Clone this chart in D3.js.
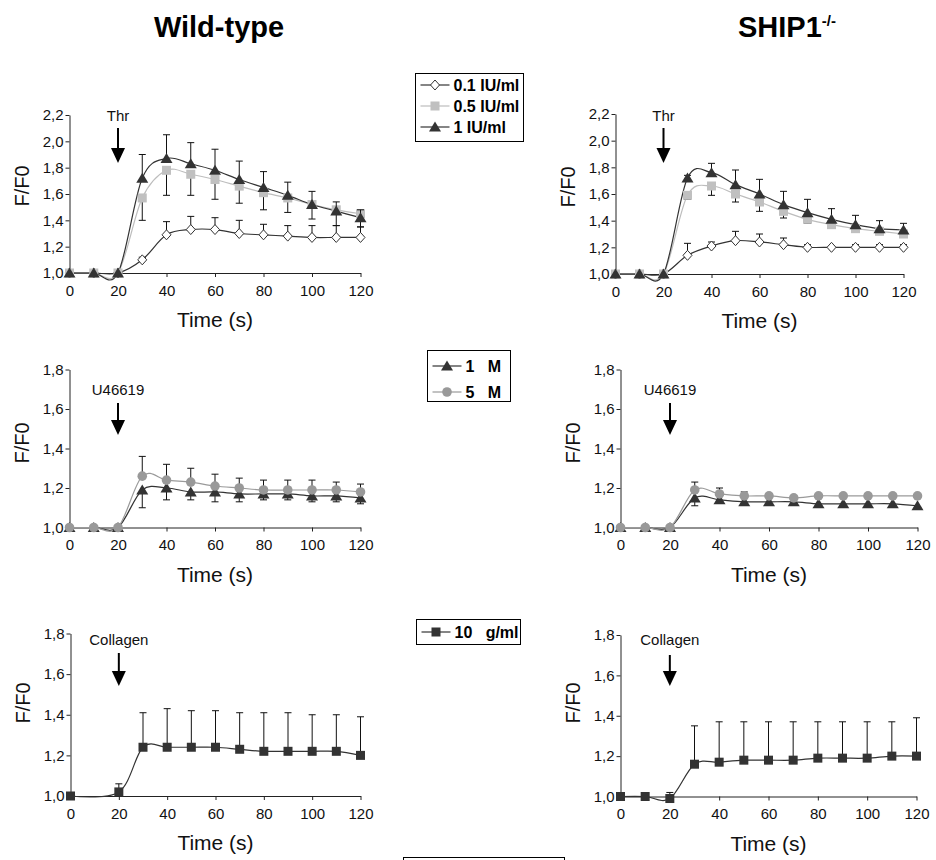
<!DOCTYPE html>
<html>
<head>
<meta charset="utf-8">
<script src="https://cdn.jsdelivr.net/npm/d3@7"></script>
<style>
body{margin:0;background:#fff;}
svg{font-family:"Liberation Sans",Arial,sans-serif;}
</style>
</head>
<body>
<div id="chart-area"></div>
<script>
// time points (s)
var times=[0,10,20,30,40,50,60,70,80,90,100,110,120];
var timesColWT=[0,20,30,40,50,60,70,80,90,100,110,120];
var xTicks=[0,20,40,60,80,100,120];
var yTicksThr=[1.0,1.2,1.4,1.6,1.8,2.0,2.2];
var yTicksLow=[1.0,1.2,1.4,1.6,1.8];

// thrombin, wild-type
var thr01WT=[1.00,1.00,1.00,1.10,1.29,1.33,1.33,1.30,1.29,1.28,1.27,1.27,1.27];
var thr01WTerr=[0,0,0,0.02,0.10,0.10,0.09,0.10,0.08,0.08,0.09,0.09,0.08];
var thr05WT=[1.00,1.00,1.00,1.57,1.78,1.75,1.71,1.66,1.61,1.57,1.52,1.48,1.45];
var thr05WTerr=[0,0,0,0.17,0.19,0.16,0.15,0.13,0.13,0.11,0.11,0.12,0.10];
var thr1WT=[1.00,1.00,1.00,1.72,1.87,1.83,1.78,1.71,1.65,1.59,1.52,1.47,1.42];
var thr1WTerr=[0,0,0,0.18,0.18,0.16,0.16,0.14,0.12,0.10,0.10,0.07,0.06];

// thrombin, SHIP1-/-
var thr01KO=[1.00,1.00,1.00,1.14,1.21,1.25,1.24,1.22,1.20,1.20,1.20,1.20,1.20];
var thr01KOerr=[0,0,0,0.09,0.03,0.07,0.06,0.05,0.02,0.01,0.02,0.02,0.02];
var thr05KO=[1.00,1.00,1.00,1.59,1.66,1.60,1.54,1.47,1.41,1.37,1.34,1.32,1.30];
var thr05KOerr=[0,0,0,0.03,0.07,0.06,0.07,0.05,0.03,0.02,0.02,0.02,0.02];
var thr1KO=[1.00,1.00,1.00,1.72,1.76,1.67,1.60,1.52,1.46,1.41,1.37,1.34,1.33];
var thr1KOerr=[0,0,0,0.02,0.07,0.11,0.11,0.10,0.10,0.08,0.07,0.06,0.05];

// U46619
var u1WT=[1.00,1.00,1.00,1.19,1.20,1.18,1.18,1.17,1.17,1.17,1.16,1.16,1.15];
var u1WTerr=[0,0,0,0.09,0.06,0.04,0.05,0.04,0.03,0.03,0.03,0.03,0.03];
var u5WT=[1.00,1.00,1.00,1.26,1.24,1.23,1.21,1.20,1.19,1.19,1.19,1.19,1.18];
var u5WTerr=[0,0,0,0.10,0.08,0.07,0.06,0.05,0.05,0.05,0.05,0.04,0.04];
var u1KO=[1.00,1.00,1.00,1.15,1.14,1.13,1.13,1.13,1.12,1.12,1.12,1.12,1.11];
var u1KOerr=[0,0,0,0.04,0.01,0.01,0.01,0.01,0.01,0.01,0.01,0.01,0.01];
var u5KO=[1.00,1.00,1.00,1.19,1.17,1.16,1.16,1.15,1.16,1.16,1.16,1.16,1.16];
var u5KOerr=[0,0,0,0.04,0.03,0.02,0.01,0.01,0.01,0.01,0.01,0.01,0.01];

// collagen
var colWT=[1.00,1.02,1.24,1.24,1.24,1.24,1.23,1.22,1.22,1.22,1.22,1.20];
var colWTerr=[0,0.04,0.17,0.19,0.18,0.18,0.18,0.19,0.19,0.18,0.18,0.19];
var colKO=[1.00,1.00,0.99,1.16,1.17,1.18,1.18,1.18,1.19,1.19,1.19,1.20,1.20];
var colKOerr=[0,0,0.03,0.19,0.20,0.19,0.19,0.19,0.18,0.18,0.18,0.17,0.19];

var styles={
  diamond:{line:"#333",fill:"#fff",stroke:"#333"},
  lightSquare:{line:"#bdbdbd",fill:"#c0c0c0",stroke:"none"},
  triangle:{line:"#333",fill:"#333",stroke:"none"},
  circle:{line:"#9a9a9a",fill:"#999",stroke:"none"},
  darkSquare:{line:"#333",fill:"#333",stroke:"none"}
};

var panels=[
  {x0:69.5,x1:360.5,yTop:115,yBot:273,yMax:2.2,ticks:yTicksThr,label:"Thr",labelY:121,arrowTop:128,arrowTip:163,yLabelY:186,
   series:[{t:times,v:thr01WT,e:thr01WTerr,dir:1,s:"diamond"},{t:times,v:thr05WT,e:thr05WTerr,dir:-1,s:"lightSquare"},{t:times,v:thr1WT,e:thr1WTerr,dir:1,s:"triangle"}]},
  {x0:615.5,x1:903.5,yTop:114,yBot:274,yMax:2.2,ticks:yTicksThr,label:"Thr",labelY:121,arrowTop:128,arrowTip:163,yLabelY:187,
   series:[{t:times,v:thr01KO,e:thr01KOerr,dir:1,s:"diamond"},{t:times,v:thr05KO,e:thr05KOerr,dir:-1,s:"lightSquare"},{t:times,v:thr1KO,e:thr1KOerr,dir:1,s:"triangle"}]},
  {x0:69.5,x1:360.5,yTop:369.5,yBot:527.5,yMax:1.8,ticks:yTicksLow,label:"U46619",labelY:395,arrowTop:403,arrowTip:435,yLabelY:443,
   series:[{t:times,v:u1WT,e:u1WTerr,dir:-1,s:"triangle"},{t:times,v:u5WT,e:u5WTerr,dir:1,s:"circle"}]},
  {x0:620.5,x1:917.5,yTop:369.5,yBot:527.5,yMax:1.8,ticks:yTicksLow,label:"U46619",labelY:395,arrowTop:403,arrowTip:435,yLabelY:443,
   series:[{t:times,v:u1KO,e:u1KOerr,dir:-1,s:"triangle"},{t:times,v:u5KO,e:u5KOerr,dir:1,s:"circle"}]},
  {x0:70.5,x1:360.5,yTop:633.5,yBot:796,yMax:1.8,ticks:yTicksLow,label:"Collagen",labelY:645,arrowTop:653,arrowTip:686,yLabelY:703,
   series:[{t:timesColWT,v:colWT,e:colWTerr,dir:1,s:"darkSquare"}]},
  {x0:620.5,x1:916.5,yTop:635,yBot:796.5,yMax:1.8,ticks:yTicksLow,label:"Collagen",labelY:645,arrowTop:655,arrowTip:686,yLabelY:703,
   series:[{t:times,v:colKO,e:colKOerr,dir:1,s:"darkSquare"}]}
];

var svg=d3.select("#chart-area").append("svg")
  .attr("width",936)
  .attr("height",860)
  .style("display","block");

svg.append("rect").attr("width",936).attr("height",860).attr("fill","#fff");

var commaFmt=function(d){return d3.format(".1f")(d).replace(".",",");};

function marker(g,shape,cx,cy){
  var st=styles[shape];
  if(shape=="triangle"){
    g.append("path").attr("d","M"+cx+","+(cy-5.5)+"L"+(cx+6)+","+(cy+4.5)+"L"+(cx-6)+","+(cy+4.5)+"Z")
      .attr("fill",st.fill);
  } else if(shape=="diamond"){
    g.append("path").attr("d","M"+cx+","+(cy-5)+"L"+(cx+4.5)+","+cy+"L"+cx+","+(cy+5)+"L"+(cx-4.5)+","+cy+"Z")
      .attr("fill",st.fill).attr("stroke",st.stroke).attr("stroke-width",1);
  } else if(shape=="circle"){
    g.append("circle").attr("cx",cx).attr("cy",cy).attr("r",4.8).attr("fill",st.fill);
  } else {
    g.append("rect").attr("x",cx-4.5).attr("y",cy-4.5).attr("width",9).attr("height",9).attr("fill",st.fill);
  }
}

panels.forEach(function(p){
  var x=d3.scaleLinear().domain([0,120]).range([p.x0,p.x1]);
  var y=d3.scaleLinear().domain([1,p.yMax]).range([p.yBot,p.yTop]);
  var g=svg.append("g");

  g.append("g")
    .attr("transform","translate(0,"+p.yBot+")")
    .call(d3.axisBottom(x).tickValues(xTicks).tickSizeInner(4).tickSizeOuter(0).tickPadding(8))
    .call(function(a){
      a.select(".domain").attr("stroke","#222");
      a.selectAll("line").attr("stroke","#222");
      a.selectAll("text").attr("font-size","15px").attr("fill","#111");
    });

  g.append("g")
    .attr("transform","translate("+p.x0+",0)")
    .call(d3.axisLeft(y).tickValues(p.ticks).tickFormat(commaFmt).tickSizeInner(4).tickSizeOuter(0).tickPadding(2))
    .call(function(a){
      a.attr("font-family",null);
      a.select(".domain").attr("stroke","#222");
      a.selectAll("line").attr("stroke","#222");
      a.selectAll("text").attr("font-size","15px").attr("fill","#111");
    });

  g.append("text")
    .attr("x",(p.x0+p.x1)/2)
    .attr("y",p.yBot+54)
    .attr("text-anchor","middle")
    .attr("font-size","21px")
    .attr("fill","#111")
    .text("Time (s)");

  g.append("text")
    .attr("transform","translate("+(p.x0-40.5)+","+p.yLabelY+") rotate(-90)")
    .attr("text-anchor","middle")
    .attr("font-size","20px")
    .attr("fill","#111")
    .text("F/F0");

  // stimulus arrow
  var ax=x(20);
  g.append("text")
    .attr("x",ax)
    .attr("y",p.labelY)
    .attr("text-anchor","middle")
    .attr("font-size","15px")
    .attr("fill","#111")
    .text(p.label);
  g.append("line")
    .attr("x1",ax).attr("x2",ax)
    .attr("y1",p.arrowTop).attr("y2",p.arrowTip-14)
    .attr("stroke","#000").attr("stroke-width",2);
  g.append("path")
    .attr("d","M"+(ax-7)+","+(p.arrowTip-15)+"L"+(ax+7)+","+(p.arrowTip-15)+"L"+ax+","+p.arrowTip+"Z")
    .attr("fill","#000");

  var line=d3.line()
    .x(function(d){return x(d[0]);})
    .y(function(d){return y(d[1]);})
    .curve(d3.curveCardinal.tension(0));

  p.series.forEach(function(s){
    var pts=s.t.map(function(t,i){return [t,s.v[i]];});
    g.append("path")
      .attr("d",line(pts))
      .attr("fill","none")
      .attr("stroke",styles[s.s].line)
      .attr("stroke-width",1.2);
  });

  p.series.forEach(function(s){
    var eb=g.append("g").attr("stroke","#111").attr("stroke-width",1);
    s.t.forEach(function(t,i){
      if(!s.e[i])return;
      var end=y(s.v[i]+s.dir*s.e[i]);
      eb.append("line").attr("x1",x(t)).attr("x2",x(t)).attr("y1",y(s.v[i])).attr("y2",end);
      eb.append("line").attr("x1",x(t)-3.5).attr("x2",x(t)+3.5).attr("y1",end).attr("y2",end);
    });
    var mg=g.append("g");
    s.t.forEach(function(t,i){marker(mg,s.s,x(t),y(s.v[i]));});
  });
});

// titles
svg.append("text")
  .attr("x",219).attr("y",37)
  .attr("text-anchor","middle")
  .attr("font-size","29px").attr("font-weight","bold")
  .text("Wild-type");
var ship=svg.append("text")
  .attr("x",787).attr("y",37)
  .attr("text-anchor","middle")
  .attr("font-size","29px").attr("font-weight","bold");
ship.append("tspan").text("SHIP1");
ship.append("tspan").attr("dy",-11).attr("font-size","15px").text("-/-");

// legends
var legends=[
  {x:415.5,y:73.5,w:108,h:68,rows:[{s:"diamond",t:"0.1 IU/ml"},{s:"lightSquare",t:"0.5 IU/ml"},{s:"triangle",t:"1 IU/ml"}],rowY:[85,106,127]},
  {x:427.5,y:350.5,w:83,h:51,rows:[{s:"triangle",t:"1   M"},{s:"circle",t:"5   M"}],rowY:[366,392]},
  {x:416.5,y:619.5,w:104,h:25,rows:[{s:"darkSquare",t:"10   g/ml"}],rowY:[632]}
];
legends.forEach(function(l){
  var g=svg.append("g");
  g.append("rect").attr("x",l.x).attr("y",l.y).attr("width",l.w).attr("height",l.h)
    .attr("fill","#fff").attr("stroke","#000").attr("stroke-width",1);
  l.rows.forEach(function(r,i){
    var cy=l.rowY[i];
    g.append("line").attr("x1",l.x+5).attr("x2",l.x+34).attr("y1",cy).attr("y2",cy)
      .attr("stroke",styles[r.s].line).attr("stroke-width",1.2);
    marker(g,r.s,l.x+19.5,cy);
    g.append("text").attr("x",l.x+38).attr("y",cy+5.5)
      .attr("font-size","16px").attr("font-weight","bold")
      .style("white-space","pre")
      .text(r.t);
  });
});

// box cut off at the bottom edge
svg.append("rect").attr("x",403.5).attr("y",857.5).attr("width",161).attr("height",20)
  .attr("fill","none").attr("stroke","#000");
</script>
</body>
</html>
